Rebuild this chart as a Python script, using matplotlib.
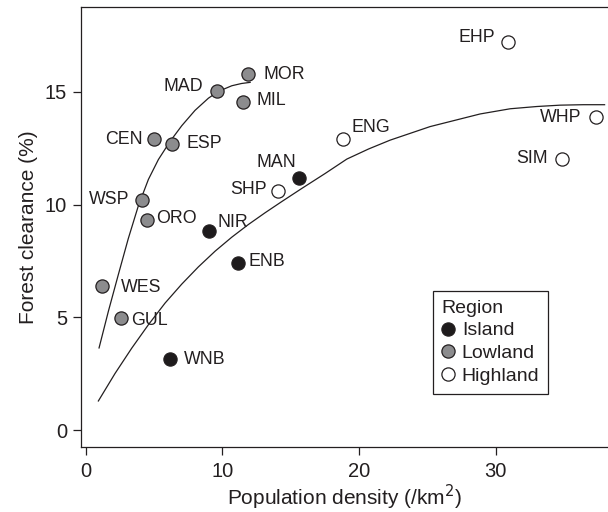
import matplotlib
matplotlib.use("Agg")
import matplotlib.pyplot as plt
from matplotlib.lines import Line2D

plt.rcParams['font.family'] = ['Liberation Sans', 'DejaVu Sans']
INK = '#231f20'

# Site data: population density (/km2) and forest clearance (%)
island_names = ['MAN', 'NIR', 'ENB', 'WNB']
island_x = [15.6, 9.05, 11.17, 6.17]
island_y = [11.20, 8.85, 7.43, 3.16]

lowland_names = ['MOR', 'MAD', 'MIL', 'CEN', 'ESP', 'WSP', 'ORO', 'WES', 'GUL']
lowland_x = [11.9, 9.61, 11.54, 5.0, 6.30, 4.10, 4.47, 1.18, 2.57]
lowland_y = [15.79, 15.05, 14.57, 12.91, 12.69, 10.21, 9.32, 6.40, 4.96]

highland_names = ['SHP', 'ENG', 'EHP', 'WHP', 'SIM']
highland_x = [14.05, 18.81, 30.92, 37.3, 34.87]
highland_y = [10.62, 12.91, 17.2, 13.87, 12.01]

# Fitted trend for lowland sites
low_fit_x = [0.98, 1.66, 2.39, 3.12, 3.86, 4.59, 5.32, 6.17, 7.03, 8.00, 8.98,
             9.71, 10.69, 11.40, 12.03]
low_fit_y = [3.65, 5.27, 6.90, 8.50, 9.96, 11.12, 12.00, 12.80, 13.50, 14.18,
             14.72, 15.02, 15.27, 15.37, 15.42]

# Fitted trend for island and highland sites
high_fit_x = [0.93, 2.15, 3.37, 4.59, 5.81, 7.03, 8.24, 9.47, 10.69, 11.90,
              13.12, 14.35, 15.81, 17.51, 19.10, 20.70, 22.27, 25.19, 28.85,
              31.05, 33.00, 34.71, 36.40, 37.95]
high_fit_y = [1.30, 2.52, 3.64, 4.68, 5.64, 6.48, 7.24, 7.94, 8.56, 9.12,
              9.64, 10.14, 10.72, 11.38, 12.02, 12.47, 12.86, 13.46, 14.02,
              14.25, 14.35, 14.41, 14.43, 14.43]

# Label offsets in pixels (dx, dy, ha)
label_offsets = {
    'MAN': (-3, 15, 'right'), 'NIR': (8, 8, 'left'), 'ENB': (10, 1, 'left'),
    'WNB': (14, -1, 'left'),
    'MOR': (15, 0, 'left'), 'MAD': (-14, 4, 'right'), 'MIL': (13, 1, 'left'),
    'CEN': (-11, 0, 'right'), 'ESP': (15, 0, 'left'), 'WSP': (-12, 0, 'right'),
    'ORO': (9, 2, 'left'), 'WES': (19, -2, 'left'), 'GUL': (10, -2, 'left'),
    'SHP': (-11, 1, 'right'), 'ENG': (9, 11, 'left'), 'EHP': (-13, 5, 'right'),
    'WHP': (-14, 0, 'right'), 'SIM': (-15, 1, 'right'),
}

fig = plt.figure(figsize=(6.08, 5.12), dpi=100)
ax = fig.add_axes([81 / 608, 1 - 447 / 512, 1 - 81 / 608, (447 - 7) / 512])

ax.plot(low_fit_x, low_fit_y, color=INK, lw=0.9, zorder=2)
ax.plot(high_fit_x, high_fit_y, color=INK, lw=0.9, zorder=2)

groups = [
    ('Island', island_names, island_x, island_y, '#1e1b1c'),
    ('Lowland', lowland_names, lowland_x, lowland_y, '#8c8c8e'),
    ('Highland', highland_names, highland_x, highland_y, 'white'),
]
ms = 9.5
for name, labels, xs, ys, fc in groups:
    ax.plot(xs, ys, 'o', ms=ms, mfc=fc, mec=INK, mew=0.9, ls='none', zorder=3)
    for lab, x, y in zip(labels, xs, ys):
        dx, dy, ha = label_offsets[lab]
        ax.annotate(lab, (x, y), xytext=(dx, dy), textcoords='offset pixels',
                    ha=ha, va='center', fontsize=12.8, color=INK, zorder=4)

ax.set_xlim(-0.34, 38.2)
ax.set_ylim(-0.74, 18.76)
ax.set_xticks([0, 10, 20, 30])
ax.set_yticks([0, 5, 10, 15])
ax.tick_params(direction='out', length=6, width=0.9, colors=INK, labelsize=14.5,
               labelcolor=INK)
ax.tick_params(axis='x', pad=5)
ax.tick_params(axis='y', pad=4)
for side in ['left', 'bottom', 'top']:
    ax.spines[side].set_color(INK)
    ax.spines[side].set_linewidth(0.9)
ax.spines['right'].set_visible(False)

ax.set_xlabel('Population density (/km$^2$)', fontsize=15, color=INK, labelpad=1)
ax.set_ylabel('Forest clearance (%)', fontsize=15, color=INK, labelpad=5)

handles = [Line2D([], [], marker='o', ls='none', ms=ms, mfc=fc, mec=INK, mew=0.9)
           for _, _, _, _, fc in groups]
leg = ax.legend(handles, [g[0] for g in groups], title='Region',
                loc='upper left', bbox_to_anchor=((432.7 - 81) / 527, 1 - (291 - 7) / 440),
                fontsize=14, title_fontsize=14, frameon=True, fancybox=False,
                edgecolor=INK, framealpha=1, handlelength=0.7, handletextpad=0.35,
                labelspacing=0.26, borderpad=0.45, borderaxespad=0)
leg.get_frame().set_linewidth(0.9)
leg._legend_box.align = 'left'
for t in leg.get_texts():
    t.set_color(INK)
leg.get_title().set_color(INK)

fig.savefig('out.png', dpi=100)
